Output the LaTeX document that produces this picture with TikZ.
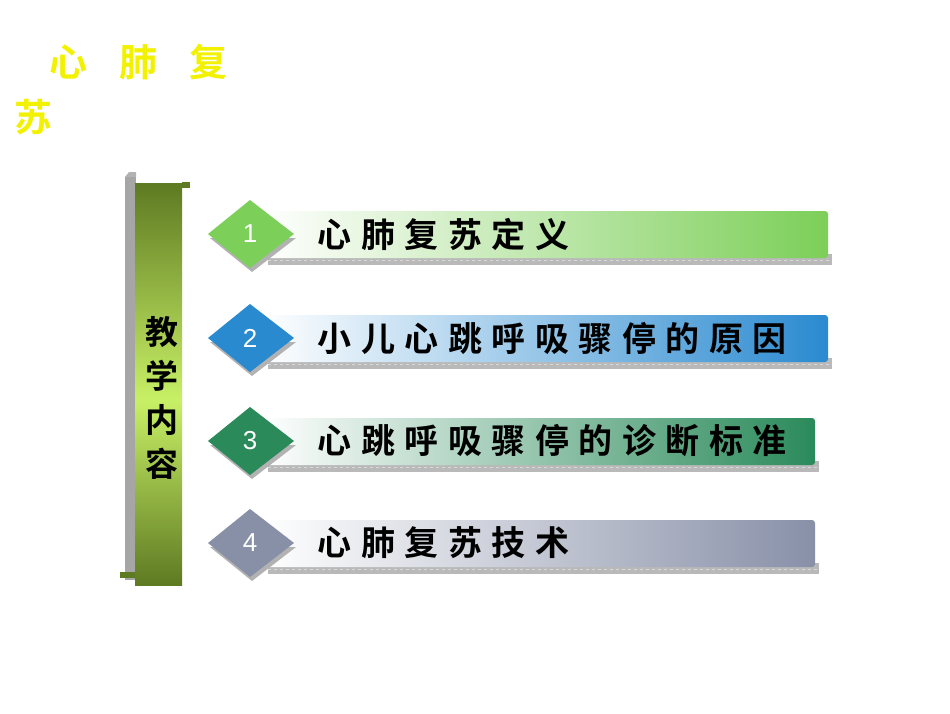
\documentclass[tikz,border=0pt]{standalone}
\usepackage{fontspec}
\newfontfamily\cjk{Noto Sans CJK SC Bold}
\setsansfont{Liberation Sans}
\begin{document}
\begin{tikzpicture}[x=1pt,y=-1pt,
  bartext/.style={font=\cjk\fontsize{34}{34}\selectfont\addfontfeature{LetterSpace=28},anchor=west,text=black},
  numtext/.style={font=\sffamily\fontsize{26}{26}\selectfont,text=white},
  ttlchar/.style={text=ttl,font=\cjk\fontsize{38}{38}\selectfont}]
\definecolor{ttl}{HTML}{F2F200}
\definecolor{olive}{HTML}{5E7A22}
\definecolor{lime}{HTML}{C8F066}
\useasboundingbox (0,0) rectangle (950,713);
\fill[white] (0,0) rectangle (950,713);
\node[ttlchar] (t1) at (68,62) {心};
\node[ttlchar] (t2) at (138,62) {肺};
\node[ttlchar] (t3) at (208,62) {复};
\node[ttlchar] (t4) at (33,117) {苏};
% scroll
\fill[gray!70] (125,177) rectangle (136,580);
\fill[gray!60] (125,177) -- (136,177) -- (136,172) -- (129,172) -- cycle;
\shade[top color=olive,bottom color=lime] (135,183) rectangle (182,400);
\shade[top color=lime,bottom color=olive] (135,400) rectangle (182,585);
\fill[olive] (182,182) rectangle (190,188);
\fill[olive] (120,572) rectangle (135,578);
\node[font=\cjk\fontsize{33}{33}\selectfont,align=center] (side) at (162,398) {教\\[11pt]学\\[11pt]内\\[11pt]容};
\foreach \i/\y/\r/\c/\txt in {1/234/828/7CCF58/心肺复苏定义,2/338/828/2A8AD0/小儿心跳呼吸骤停的原因,3/441/815/2A8A5A/心跳呼吸骤停的诊断标准,4/543/815/8890A8/心肺复苏技术}{
  \definecolor{bc}{HTML}{\c}
  \fill[gray!55] (268,\y+20) rectangle (\r+4,\y+31);
  \draw[gray!30,dashed] (268,\y+26) -- (\r+2,\y+26);
  \shade[left color=white,right color=bc,rounded corners=3pt] (262,\y-23) rectangle (\r,\y+24);
  \fill[gray!60] (210,\y+4) -- (252,\y+38) -- (296,\y+4) -- cycle;
  \fill[bc] (208,\y) -- (250,\y-34) -- (294,\y) -- (250,\y+34) -- cycle;
  \node[numtext] (n\i) at (250,\y) {\i};
  \node[bartext] (b\i) at (314,\y) {\txt};
}
\end{tikzpicture}
\end{document}
